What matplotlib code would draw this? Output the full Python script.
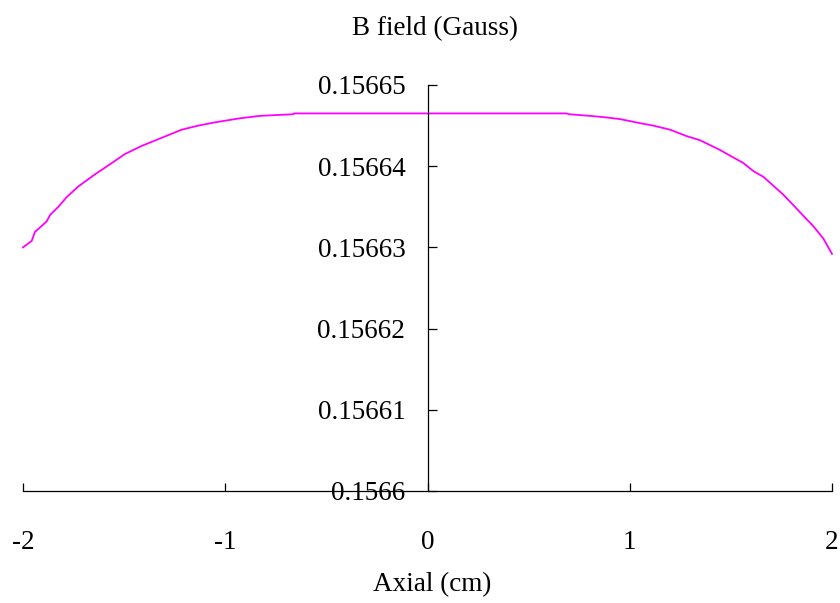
import matplotlib
matplotlib.use("Agg")
import matplotlib.pyplot as plt

plt.rcParams['font.family'] = ['Liberation Serif', 'DejaVu Serif']

x_cm = [-2.0, -1.957, -1.941, -1.883, -1.866, -1.825, -1.784, -1.727, -1.644,
        -1.578, -1.496, -1.413, -1.314, -1.215, -1.133, -1.051, -0.927, -0.828,
        -0.664, -0.660, 0.0, 0.688, 0.700, 0.803, 0.886, 0.952, 1.051, 1.116,
        1.199, 1.282, 1.347, 1.397, 1.446, 1.496, 1.561, 1.611, 1.660, 1.710,
        1.759, 1.809, 1.858, 1.908, 1.957, 2.0]
b_gauss = [0.1566300, 0.1566308, 0.1566319, 0.1566332, 0.1566340, 0.1566350,
           0.1566362, 0.1566375, 0.1566390, 0.1566401, 0.1566415, 0.1566425,
           0.1566435, 0.1566445, 0.1566450, 0.1566454, 0.1566459, 0.1566462,
           0.1566464, 0.1566465, 0.1566465, 0.1566465, 0.1566464, 0.1566462,
           0.1566460, 0.1566458, 0.1566453, 0.1566450, 0.1566445, 0.1566437,
           0.1566432, 0.1566426, 0.1566420, 0.1566413, 0.1566404, 0.1566394,
           0.1566387, 0.1566376, 0.1566365, 0.1566352, 0.1566339, 0.1566326,
           0.1566311, 0.1566292]

x_ticks = [-2, -1, 0, 1, 2]
x_tick_labels = ["-2", "-1", "0", "1", "2"]
y_ticks = [0.1566, 0.15661, 0.15662, 0.15663, 0.15664, 0.15665]
y_tick_labels = ["0.1566", "0.15661", "0.15662", "0.15663", "0.15664", "0.15665"]

title = "B field (Gauss)"
xlabel = "Axial (cm)"

fig = plt.figure(figsize=(8.4, 6.03), dpi=100)
ax = fig.add_axes([23/840, 1 - 491/603, (832 - 23)/840, (491 - 85)/603])

ax.plot(x_cm, b_gauss, color='#FF00FF', lw=1.3, clip_on=False)

ax.set_xlim(-2, 2)
ax.set_ylim(0.1566, 0.15665)

ax.spines['right'].set_visible(False)
ax.spines['top'].set_visible(False)
ax.spines['left'].set_position(('data', 0))
for s in ('left', 'bottom'):
    ax.spines[s].set_linewidth(0.9)
    ax.spines[s].set_color('black')

ax.set_xticks(x_ticks)
ax.set_xticklabels(x_tick_labels)
ax.set_yticks(y_ticks)
ax.set_yticklabels(y_tick_labels)

ax.tick_params(axis='x', direction='in', length=6, width=0.9, pad=28, labelsize=19.5)
ax.tick_params(axis='y', direction='in', length=6.5, width=0.9, pad=16, labelsize=19.5)
ax.patch.set_visible(False)

fig.text(435/840, 1 - 29/603, title, ha='center', va='center', fontsize=19.5)
fig.text(432/840, 1 - 585/603, xlabel, ha='center', va='center', fontsize=19.5)

fig.savefig("out.png", dpi=100)
